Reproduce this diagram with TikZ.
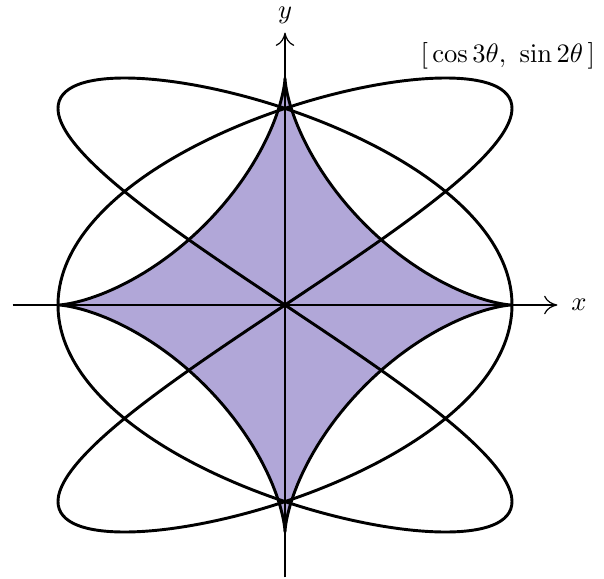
\documentclass[tikz,border=0pt]{standalone}
\usetikzlibrary{arrows.meta}
\definecolor{astfill}{RGB}{177,167,216}
\tikzset{
  curve/.style={line width=1.1pt, line join=round},
  axis/.style={line width=0.45pt, -{To[length=5pt,width=7pt]}},
}
\begin{document}
\begin{tikzpicture}[x=3cm,y=3cm]
\useasboundingbox (-1.2555,-1.2026) rectangle (1.4053,1.3436);
% astroid
\fill[astfill] plot[domain=0:360, samples=241] ({cos(\x)*cos(\x)*cos(\x)},{sin(\x)*sin(\x)*sin(\x)}) -- cycle;
% axes
\coordinate (xl) at (-1.2,0);
\coordinate (xr) at (1.2,0);
\coordinate (yb) at (0,-1.2);
\coordinate (yt) at (0,1.2);
\draw[axis] (xl) -- (xr) node[right, inner sep=5pt] (xlab) {$x$};
\draw[axis] (yb) -- (yt) node[above, inner sep=3pt] (ylab) {$y$};
\draw[curve] plot[domain=0:360, samples=241] ({cos(\x)*cos(\x)*cos(\x)},{sin(\x)*sin(\x)*sin(\x)}) -- cycle;
% Lissajous
\draw[curve] plot[domain=0:360, samples=361, smooth] ({cos(3*\x)},{sin(2*\x)}) -- cycle;
\node[anchor=east, inner sep=0pt] (lab) at (1.368,1.096) {$[\,\cos 3\theta,\ \sin 2\theta\,]$};
\end{tikzpicture}
\end{document}
